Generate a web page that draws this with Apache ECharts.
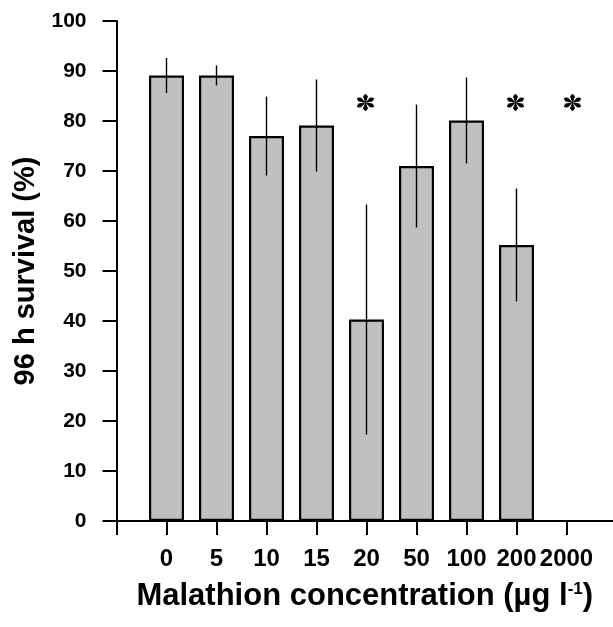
<!DOCTYPE html>
<html>
<head>
<meta charset="utf-8">
<script src="https://cdn.jsdelivr.net/npm/echarts@6/dist/echarts.min.js"></script>
<style>
html,body{margin:0;padding:0;background:#fff;}
#chart{width:613px;height:627px;}
</style>
</head>
<body>
<div id="chart"></div>
<script>
// ---- data ----
const categories = ['0', '5', '10', '15', '20', '50', '100', '200', '2000'];
const survival = [89.1, 89.1, 77.0, 79.1, 40.3, 71.0, 80.1, 55.2, 0];
const errorSD = [3.5, 2.0, 7.9, 9.2, 23.0, 12.3, 8.6, 11.3, 0];
const significant = [false, false, false, false, true, false, false, true, true];
const starLevel = 83.7;
const yTicks = [0, 10, 20, 30, 40, 50, 60, 70, 80, 90, 100];

const FONT = '"Liberation Sans", Arial, sans-serif';

// asterisk symbol path (six petals)
function asteriskPath() {
  let d = '';
  const P = (a, r) => {
    const x = 50 + r * Math.cos(a), y = 50 - r * Math.sin(a);
    return x.toFixed(2) + ' ' + y.toFixed(2);
  };
  for (let k = 0; k < 6; k++) {
    const a = (90 + k * 60) * Math.PI / 180;
    d += 'M' + P(a + 0.5, 5) + ' L' + P(a + 0.36, 34) + ' Q' + P(a, 62) + ' ' + P(a - 0.36, 34) + ' L' + P(a - 0.5, 5) + ' Z ';
  }
  d += 'M44 50 A6 6 0 1 0 56 50 A6 6 0 1 0 44 50 Z';
  return 'path://' + d;
}

const barData = survival.map((v, i) => [i, v]);
const errData = survival.map((v, i) => [i, v - errorSD[i], v + errorSD[i]]);
const starData = [];
significant.forEach((s, i) => {
  if (s) starData.push({ value: [i, starLevel], symbolOffset: i === 8 ? [6, 0] : [-1, 0] });
});

const chart = echarts.init(document.getElementById('chart'), null, { renderer: 'canvas' });
chart.setOption({
  animation: false,
  backgroundColor: '#fff',
  grid: { left: 116.5, right: 0, top: 21, bottom: 106, containLabel: false },
  xAxis: {
    type: 'value',
    min: -1,
    max: 8.93,
    interval: 1,
    splitLine: { show: false },
    axisLine: { show: true, onZero: false, lineStyle: { color: '#000', width: 2 } },
    axisTick: {
      show: true, inside: false, length: 14,
      lineStyle: { color: '#000', width: 2 },
      customValues: [-1, 0, 1, 2, 3, 4, 5, 6, 7, 8]
    },
    axisLabel: {
      customValues: [0, 1, 2, 3, 4, 5, 6, 7, 8],
      formatter: v => (Number.isInteger(v) && v >= 0 && v < categories.length) ? categories[v] : '',
      color: '#000', fontFamily: FONT, fontWeight: 'bold', fontSize: 24, margin: 26
    },
    name: '{a|Malathion concentration (µg l}{s|-1}{a|)}',
    nameLocation: 'middle',
    nameGap: 60,
    nameTextStyle: {
      rich: {
        a: { fontFamily: FONT, fontWeight: 'bold', fontSize: 31, color: '#000' },
        s: { fontFamily: FONT, fontWeight: 'bold', fontSize: 17, color: '#000', verticalAlign: 'top', padding: [0, 0, 14, 0] }
      }
    }
  },
  yAxis: {
    type: 'value',
    min: yTicks[0],
    max: yTicks[yTicks.length - 1],
    interval: 10,
    splitLine: { show: false },
    axisLine: { show: true, onZero: false, lineStyle: { color: '#000', width: 2 } },
    axisTick: { show: true, inside: false, length: 14, lineStyle: { color: '#000', width: 2 } },
    axisLabel: { color: '#000', fontFamily: FONT, fontWeight: 'bold', fontSize: 21, margin: 30 },
    name: '96 h survival (%)',
    nameLocation: 'middle',
    nameGap: 74,
    nameRotate: 90,
    nameTextStyle: { fontFamily: FONT, fontWeight: 'bold', fontSize: 29, color: '#000' }
  },
  series: [
    {
      type: 'bar',
      data: barData,
      barWidth: 35,
      itemStyle: { color: '#c0c0c0', borderColor: '#000', borderWidth: 2.2 },
      z: 2
    },
    {
      type: 'custom',
      data: errData,
      z: 3,
      renderItem: function (params, api) {
        const lo = api.coord([api.value(0), api.value(1)]);
        const hi = api.coord([api.value(0), api.value(2)]);
        if (Math.abs(hi[1] - lo[1]) < 0.5) return null;
        return {
          type: 'line',
          shape: { x1: lo[0], y1: lo[1], x2: hi[0], y2: hi[1] },
          style: { stroke: '#000', lineWidth: 1.4 }
        };
      }
    },
    {
      type: 'scatter',
      data: starData,
      symbol: asteriskPath(),
      symbolSize: [17, 17],
      itemStyle: { color: '#000', opacity: 1 },
      z: 4
    }
  ]
});
</script>
</body>
</html>
